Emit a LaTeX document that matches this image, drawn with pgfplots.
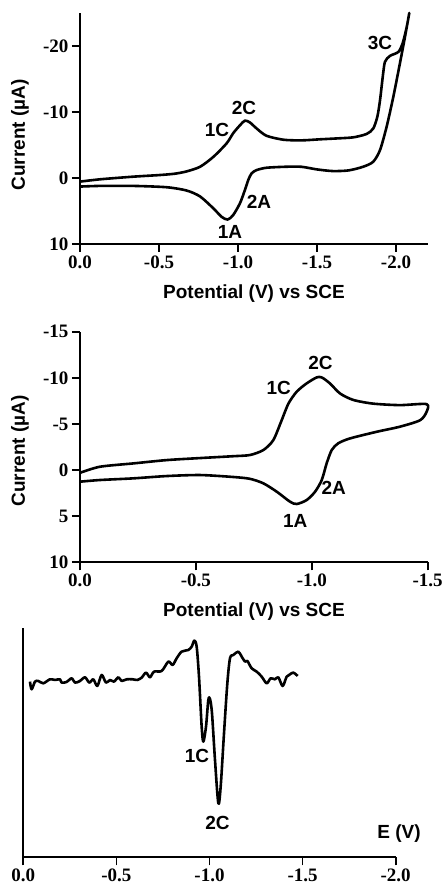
\documentclass[border=0pt]{standalone}
\usepackage{fontspec}
\setmainfont{Liberation Serif}
\newfontfamily\lsans{Liberation Sans}
\usepackage{pgfplots}
\pgfplotsset{compat=1.18}
\usepackage{pgfplotstable}

% Panel 1: CV to -2.08 V (E in V vs SCE, I in microampere)
\pgfplotstableread{
E I
0.000 0.55
-0.127 0.2
-0.337 -0.2
-0.506 -0.45
-0.600 -0.65
-0.675 -1.0
-0.760 -1.7
-0.844 -3.2
-0.928 -5.25
-0.970 -6.8
-1.013 -8.0
-1.044 -8.7
-1.076 -8.4
-1.118 -7.5
-1.180 -6.4
-1.287 -5.8
-1.400 -5.7
-1.519 -5.86
-1.630 -6.0
-1.730 -6.16
-1.814 -6.67
-1.856 -7.5
-1.882 -9.3
-1.899 -11.8
-1.916 -15.3
-1.930 -17.6
-1.962 -18.5
-2.015 -19.1
-2.042 -20.4
-2.068 -22.9
-2.084 -25.0
-2.057 -21.4
-2.025 -17.4
-1.983 -12.3
-1.941 -7.8
-1.899 -4.24
-1.856 -2.47
-1.793 -1.71
-1.700 -1.15
-1.600 -1.05
-1.500 -1.3
-1.400 -1.7
-1.300 -1.7
-1.180 -1.55
-1.118 -1.2
-1.086 -0.7
-1.065 0.3
-1.044 1.8
-1.013 3.8
-0.970 5.6
-0.935 6.3
-0.897 5.9
-0.844 4.6
-0.760 2.8
-0.675 1.9
-0.548 1.4
-0.337 1.2
-0.127 1.2
0.000 1.3
}\cvone

% Panel 2: CV to -1.5 V
\pgfplotstableread{
E I
0.000 0.3
-0.086 -0.36
-0.230 -0.72
-0.374 -1.08
-0.518 -1.3
-0.660 -1.5
-0.733 -1.63
-0.791 -2.17
-0.834 -3.25
-0.870 -5.4
-0.899 -7.2
-0.935 -8.5
-0.978 -9.4
-1.021 -10.04
-1.043 -10.04
-1.078 -9.4
-1.122 -8.3
-1.179 -7.6
-1.265 -7.2
-1.380 -7.04
-1.495 -7.15
-1.495 -6.3
-1.467 -5.4
-1.380 -4.7
-1.280 -4.15
-1.165 -3.43
-1.114 -2.9
-1.086 -2.17
-1.064 -0.72
-1.043 1.08
-1.014 2.35
-0.978 3.25
-0.935 3.68
-0.906 3.43
-0.849 2.35
-0.791 1.44
-0.733 0.95
-0.660 0.75
-0.518 0.54
-0.374 0.65
-0.230 0.9
-0.086 1.08
0.000 1.26
}\cvtwo

% Panel 3: differential signal (arbitrary units)
\pgfplotstableread{
E S
-0.0358 52.7
-0.0448 50.4
-0.0627 52.7
-0.0806 52.9
-0.1074 52.2
-0.1432 53.4
-0.1701 53.2
-0.1970 53.4
-0.2059 52.4
-0.2328 52.6
-0.2596 53.7
-0.2775 52.4
-0.3044 52.9
-0.3313 54.0
-0.3545 52.4
-0.3760 53.4
-0.3975 51.4
-0.4208 54.7
-0.4440 52.4
-0.4655 53.2
-0.4870 52.7
-0.5103 54.0
-0.5282 52.9
-0.5551 53.4
-0.5873 53.4
-0.6124 53.2
-0.6356 53.9
-0.6589 55.4
-0.6804 54.0
-0.7019 55.7
-0.7431 55.9
-0.7789 58.7
-0.8021 57.7
-0.8236 59.7
-0.8505 61.7
-0.8863 62.2
-0.9042 63.2
-0.9185 65.0
-0.9311 63.2
-0.9436 54.2
-0.9579 39.2
-0.9669 34.7
-0.9812 39.2
-0.9937 47.2
-1.0027 47.5
-1.0134 43.2
-1.0295 29.2
-1.0474 16.2
-1.0600 21.2
-1.0779 37.2
-1.0958 52.2
-1.1101 59.7
-1.1280 60.7
-1.1549 61.7
-1.1728 60.2
-1.1907 58.7
-1.2032 58.9
-1.2265 56.7
-1.2534 55.7
-1.2802 54.2
-1.3071 52.2
-1.3286 53.7
-1.3518 53.4
-1.3697 54.0
-1.3930 51.4
-1.4145 54.2
-1.4324 54.9
-1.4503 55.4
-1.4736 54.4
}\dpv

\newcommand{\lab}{\lsans\bfseries\fontsize{19}{22}\selectfont}

\pgfplotsset{
  panel/.style={
    scale only axis, clip=false,
    axis x line*=bottom, axis y line*=left,
    axis line style={line width=1.7pt,-},
    every tick/.style={line width=1.7pt,black},
    major tick length=8pt, tick align=outside, tick pos=left,
    ticklabel style={font=\fontsize{19}{22}\selectfont\bfseries},
  },
  curve/.style={black, line width=2.6pt, no marks, smooth, tension=0.45, line join=round},
}

\begin{document}
\begin{tikzpicture}[x=1pt,y=1pt]
\useasboundingbox (0,0) rectangle (445,888);

% ---------- Panel 1 ----------
\begin{axis}[panel, at={(80pt,644pt)}, anchor=south west,
  width=347.6pt, height=231pt,
  xmin=0, xmax=2.2, ymin=-10, ymax=25,
  xtick={0,0.5,1,1.5,2}, xticklabels={0.0,-0.5,-1.0,-1.5,-2.0},
  ytick={-10,0,10,20}, yticklabels={10,0,-10,-20}]
\addplot[curve] table[x expr=-\thisrow{E}, y expr=-\thisrow{I}] {\cvone};
\end{axis}
\node[font=\lab] at (380,845) {3C};
\node[font=\lab] at (244,780) {2C};
\node[font=\lab] at (217,758) {1C};
\node[font=\lab] at (259,686) {2A};
\node[font=\lab] at (230,656) {1A};
\node[font=\lab] at (254,594) {Potential (V) vs SCE};
\node[font=\lab, rotate=90] at (20,753) {Current (µA)};

% ---------- Panel 2 ----------
\begin{axis}[panel, at={(80pt,325.7pt)}, anchor=south west,
  width=347.7pt, height=230.6pt,
  xmin=0, xmax=1.5, ymin=-10, ymax=15,
  xtick={0,0.5,1,1.5}, xticklabels={0.0,-0.5,-1.0,-1.5},
  ytick={-10,-5,0,5,10,15}, yticklabels={10,5,0,-5,-10,-15}]
\addplot[curve] table[x expr=-\thisrow{E}, y expr=-\thisrow{I}] {\cvtwo};
\end{axis}
\node[font=\lab] at (320.5,525.5) {2C};
\node[font=\lab] at (278.7,500) {1C};
\node[font=\lab] at (333.7,400.5) {2A};
\node[font=\lab] at (295.3,367) {1A};
\node[font=\lab] at (254,276) {Potential (V) vs SCE};
\node[font=\lab, rotate=90] at (20,437) {Current (µA)};

% ---------- Panel 3 ----------
\begin{axis}[panel, at={(23.3pt,30.7pt)}, anchor=south west,
  width=372.4pt, height=229pt,
  xmin=0, xmax=2, ymin=0, ymax=68.7,
  xtick={0,0.5,1,1.5,2}, xticklabels={0.0,-0.5,-1.0,-1.5,-2.0},
  ytick=\empty]
\addplot[curve, tension=0.5] table[x expr=-\thisrow{E}, y=S] {\dpv};
\end{axis}
\node[font=\lab] at (197,132) {1C};
\node[font=\lab] at (217.5,65) {2C};
\node[font=\lab] at (399,54) {E (V)};
\end{tikzpicture}
\end{document}
